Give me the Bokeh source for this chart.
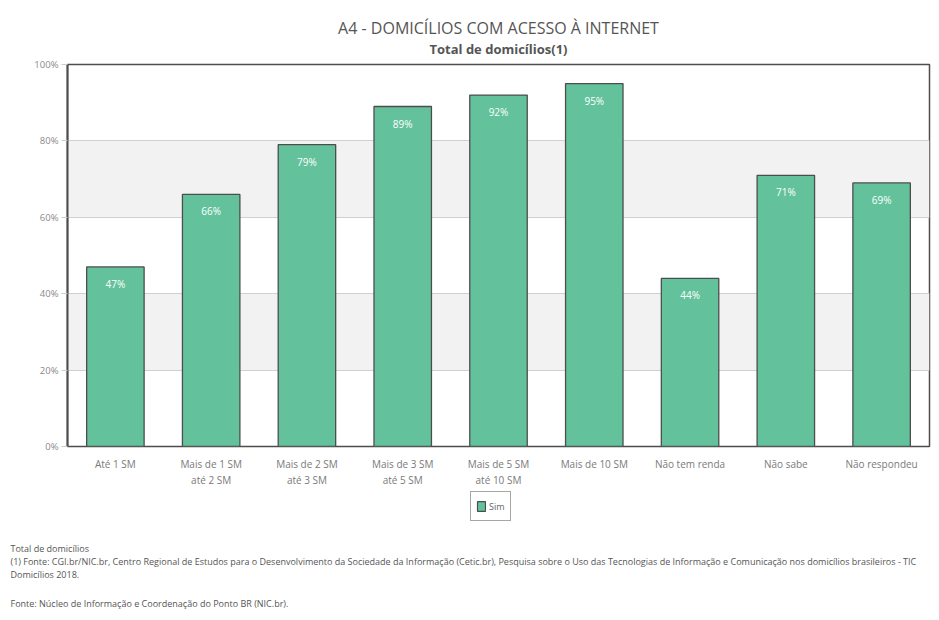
from bokeh.plotting import figure
from bokeh.layouts import column
from bokeh.models import (ColumnDataSource, LabelSet, Label, Legend, LegendItem,
                          Title, NumeralTickFormatter, FixedTicker, Range1d)
from bokeh.core.properties import value
from bokeh.embed import file_html
from bokeh.resources import INLINE

categories = ["Até 1 SM", "Mais de 1 SM\naté 2 SM", "Mais de 2 SM\naté 3 SM",
              "Mais de 3 SM\naté 5 SM", "Mais de 5 SM\naté 10 SM", "Mais de 10 SM",
              "Não tem renda", "Não sabe", "Não respondeu"]
values = [47, 66, 79, 89, 92, 95, 44, 71, 69]
value_labels = [f"{v}%" for v in values]
y_ticks = [0, 20, 40, 60, 80, 100]
series_name = "Sim"

title_text = "A4 - DOMICÍLIOS COM ACESSO À INTERNET"
subtitle_text = "Total de domicílios(1)"
footnotes = [
    "Total de domicílios",
    "(1) Fonte: CGI.br/NIC.br, Centro Regional de Estudos para o Desenvolvimento da Sociedade da Informação (Cetic.br), Pesquisa sobre o Uso das Tecnologias de Informação e Comunicação nos domicílios brasileiros - TIC",
    "Domicílios 2018.",
    "Fonte: Núcleo de Informação e Coordenação do Ponto BR (NIC.br).",
]
footnote_y = [58, 71, 84, 113]

FONT = "Open Sans"
BAR = "#63c29c"
EDGE = "#4d4d4d"

W = 939
H1 = 490
H2 = 130

src = ColumnDataSource(dict(cat=categories, val=[v / 100 for v in values], lab=value_labels))

p = figure(x_range=categories, width=W, height=H1, output_backend="svg",
           toolbar_location=None, min_border_left=67, min_border_right=10,
           min_border_top=64, min_border_bottom=H1 - 453)
p.y_range = Range1d(0, 1)
p.x_range.range_padding = 0.0

r = p.vbar(x="cat", top="val", width=0.6, source=src, fill_color=BAR,
           line_color=EDGE, line_width=1.3)

p.add_layout(LabelSet(x="cat", y="val", text="lab", source=src, y_offset=-10,
                      text_align="center", text_baseline="top", text_color="white",
                      text_font=value(FONT), text_font_size="10px",
                      text_font_style="normal"))

# axes
p.yaxis.ticker = FixedTicker(ticks=[t / 100 for t in y_ticks])
p.yaxis.formatter = NumeralTickFormatter(format="0%")
p.yaxis.axis_line_color = EDGE
p.yaxis.axis_line_width = 2
p.yaxis.major_tick_line_color = "#cccccc"
p.yaxis.major_tick_out = 6
p.yaxis.major_tick_in = 0
p.yaxis.minor_tick_line_color = None
p.yaxis.major_label_text_color = "#8a8a8a"
p.yaxis.major_label_text_font_size = "9.5px"
p.yaxis.major_label_text_font = FONT
p.yaxis.major_label_standoff = 3

p.xaxis.axis_line_color = None
p.xaxis.major_tick_line_color = None
p.xaxis.major_label_text_color = "#7a7a7a"
p.xaxis.major_label_text_font_size = "10px"
p.xaxis.major_label_text_font = FONT
p.xaxis.major_label_standoff = 4

p.xgrid.grid_line_color = None
p.ygrid.grid_line_color = "#d0d0d0"
p.ygrid.band_fill_color = "#f2f2f2"
p.ygrid.band_fill_alpha = 1.0

p.outline_line_color = EDGE
p.outline_line_width = 1.5
p.background_fill_color = "white"
p.border_fill_color = "white"

p.title = None
p.add_layout(Title(text=subtitle_text, align="center", text_font=FONT,
                   text_font_size="13px", text_font_style="bold", text_color="#555555",
                   standoff=13), "above")
try:
    main_title = Title(text=title_text, align="center", text_font=FONT,
                       text_font_size="16px", text_font_style="normal",
                       text_color="#555555", standoff=-15)
except Exception:
    main_title = Title(text=title_text, align="center", text_font=FONT,
                       text_font_size="16px", text_font_style="normal",
                       text_color="#555555", standoff=0)
p.add_layout(main_title, "above")

# lower strip: legend + footnotes
p2 = figure(width=W, height=H2, output_backend="svg", toolbar_location=None,
            x_axis_location=None, y_axis_location=None,
            x_range=Range1d(0, W), y_range=Range1d(H2, 0),
            min_border=0, min_border_left=0, min_border_right=0,
            min_border_top=0, min_border_bottom=0)
for fig in (p, p2):
    try:
        fig.frame_align = False
    except Exception:
        pass
p2.grid.visible = False
p2.outline_line_color = None
p2.background_fill_color = "white"
p2.border_fill_color = "white"

# hidden proxy glyph so that the legend shows the bar swatch
proxy = p2.vbar(x=-100, top=-50, bottom=-60, width=10, fill_color=BAR,
                line_color=EDGE, line_width=1.2)
proxy.visible = False

legend = Legend(items=[LegendItem(label=series_name, renderers=[proxy])],
                location=(470, H2 - 31), orientation="horizontal",
                border_line_color=EDGE, border_line_width=1.2,
                label_text_font=FONT, label_text_font_size="9px", label_text_color="#666666",
                glyph_width=10, glyph_height=12, label_height=18, label_width=16,
                padding=5, spacing=0, margin=0, inactive_fill_alpha=0.0,
                label_standoff=3, background_fill_color="white")
p2.add_layout(legend)

for txt, yy in zip(footnotes, footnote_y):
    p2.add_layout(Label(x=10, y=yy, text=txt,
                        text_font=FONT, text_font_size="9px", text_color="#555555",
                        text_baseline="middle", text_align="left"))

open("out.html", "w").write(file_html(column(p, p2, spacing=0), INLINE))
